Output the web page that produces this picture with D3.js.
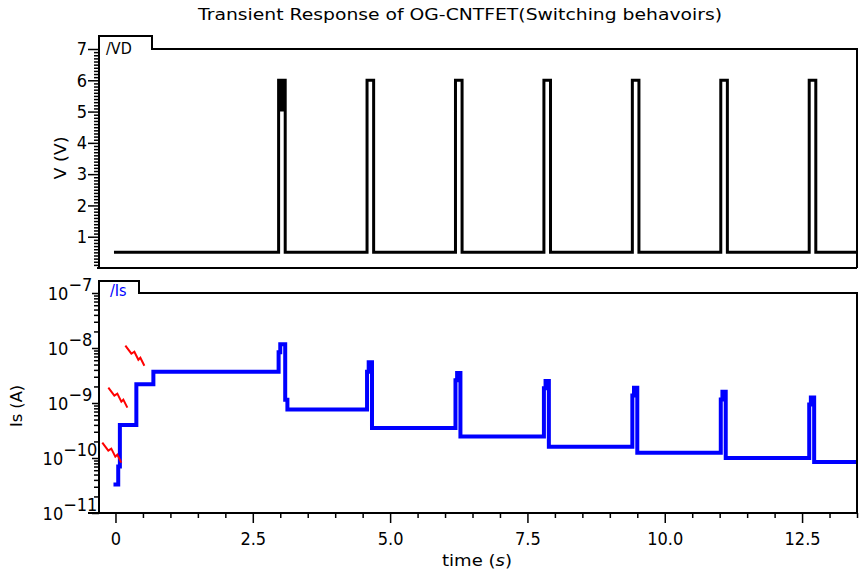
<!DOCTYPE html>
<html><head><meta charset="utf-8">
<script src="https://cdn.jsdelivr.net/npm/d3@7/dist/d3.min.js"></script>
<style>
html,body{margin:0;padding:0;background:#fff;}
svg{display:block;}
text{font-family:"DejaVu Sans Condensed","DejaVu Sans",sans-serif;fill:#000;}
</style></head><body>
<svg id="c" width="859" height="575"></svg>
<script>
// ---------------- data ----------------
const titleText = "Transient Response of OG-CNTFET(Switching behavoirs)";
const xTickValues = [0, 2.5, 5.0, 7.5, 10.0, 12.5];
const xTickLabels = ["0", "2.5", "5.0", "7.5", "10.0", "12.5"];
const vTickValues = [1, 2, 3, 4, 5, 6, 7];
const isTickExponents = [-11, -10, -9, -8, -7];

// V (top panel): step levels, each starting at time vT[i]
const vT   = [0,   2.97, 2.995, 2.995, 3.02, 3.02, 3.045, 3.045, 3.09, 4.58, 4.70, 6.19, 6.31, 7.80, 7.92, 9.41, 9.53, 11.02, 11.14, 12.63, 12.75, 13.5];
const vVal = [0.5, 6.0,  5.0,   6.0,   5.0,  6.0,  5.0,   6.0,   0.5,  6.0,  0.5,  6.0,  0.5,  6.0,  0.5,  6.0,  0.5,  6.0,   0.5,   6.0,   0.5,   0.5];

// Is (bottom panel): step levels, each starting at time isT[i]
const isT   = [0,       0.05,  0.08,  0.38,   0.69,   2.97,   3.00,    3.09,    3.13,    4.58,   4.61,   4.67,    6.19,   6.22,   6.28,     7.80,    7.83,   7.89,   9.41,    9.44,   9.50,    11.02,   11.05,  11.11,  12.63,   12.66,   12.72,   13.5];
const isVal = [3.3e-11, 7e-11, 4e-10, 2.2e-9, 3.7e-9, 8.4e-9, 1.17e-8, 1.15e-9, 7.6e-10, 3.7e-9, 5.5e-9, 3.5e-10, 2.6e-9, 3.5e-9, 2.45e-10, 1.85e-9, 2.5e-9, 1.6e-10, 1.37e-9, 1.9e-9, 1.25e-10, 1.16e-9, 1.6e-9, 1.0e-10, 9.4e-10, 1.26e-9, 8.5e-11, 8.5e-11];

// red tear-off markers (anchor in data coords)
const boltT = [0.18, -0.13, -0.24];
const boltI = [1.1e-8, 1.9e-9, 1.9e-10];

// ---------------- layout ----------------
const svg = d3.select("#c");
const L = 99, R = 857;
const top1 = 49, bot1 = 268, tab1Top = 36, tab1R = 152;
const top2 = 293, bot2 = 513, tab2Top = 281, tab2R = 139;

const x = d3.scaleLinear().domain([-0.3, 13.5]).range([L, R]);
const yV = d3.scaleLinear().domain([0, 7]).range([bot1, top1]);
const yI = d3.scaleLog().domain([1e-11, 1e-7]).range([bot2, top2]);

svg.append("rect").attr("width", 859).attr("height", 575).attr("fill", "#fff");

// title
svg.append("text").attr("x", 460).attr("y", 20).attr("text-anchor", "middle")
  .attr("font-size", 15).attr("textLength", 524).attr("lengthAdjust", "spacingAndGlyphs")
  .style("font-family", "'DejaVu Sans',sans-serif").text(titleText);

// clip paths
const defs = svg.append("defs");
defs.append("clipPath").attr("id", "clip1").append("rect")
  .attr("x", L).attr("y", top1 - 4).attr("width", R - L).attr("height", bot1 - top1 + 4);
defs.append("clipPath").attr("id", "clip2").append("rect")
  .attr("x", L + 1).attr("y", top2).attr("width", R - L - 1).attr("height", bot2 - top2);

// ---------- top panel axis ----------
const gV = svg.append("g").attr("transform", `translate(${L},0)`);
gV.call(d3.axisLeft(yV).tickValues(d3.range(0.1, 7, 0.1).filter(v => Math.abs(v - Math.round(v)) > 1e-6))
  .tickSize(5).tickFormat(""));
gV.call(g => g.select(".domain").remove());
const gV2 = svg.append("g").attr("transform", `translate(${L},0)`);
gV2.call(d3.axisLeft(yV).tickValues(vTickValues).tickSize(11).tickPadding(1).tickFormat(d3.format("d")));
gV2.select(".domain").remove();
gV2.selectAll(".tick text").attr("font-size", 18).style("font-family", "'DejaVu Sans Condensed','DejaVu Sans',sans-serif");
svg.selectAll(".tick line").attr("stroke", "#000").attr("stroke-width", 1.5);

svg.append("text").attr("transform", "translate(66,158) rotate(-90)").attr("text-anchor", "middle")
  .attr("font-size", 16).attr("textLength", 43).attr("lengthAdjust", "spacingAndGlyphs").text("V (V)");

// ---------- bottom panel axis ----------
const gI = svg.append("g").attr("transform", `translate(${L},0)`);
const minorI = [];
[-11, -10, -9, -8].forEach(e => { for (let k = 2; k <= 9; k++) minorI.push(k * Math.pow(10, e)); });
gI.call(d3.axisLeft(yI).tickValues(minorI).tickSize(5).tickFormat(""));
gI.select(".domain").remove();
const gI2 = svg.append("g").attr("transform", `translate(${L},0)`);
gI2.call(d3.axisLeft(yI).tickValues(isTickExponents.map(e => Math.pow(10, e))).tickSize(7).tickFormat(""));
gI2.select(".domain").remove();
gI2.selectAll(".tick").each(function (d, i) {
  const t = d3.select(this).append("text").attr("x", 70 - L).attr("dy", "0.35em")
    .attr("text-anchor", "middle").attr("font-size", 18).attr("fill", "#000");
  t.append("tspan").text("10");
  t.append("tspan").attr("dy", -9).text("\u2212" + Math.abs(isTickExponents[i]));
});
svg.selectAll(".tick line").attr("stroke", "#000").attr("stroke-width", 1.5);

svg.append("text").attr("transform", "translate(22,406) rotate(-90)").attr("text-anchor", "middle")
  .attr("font-size", 16).attr("textLength", 42).attr("lengthAdjust", "spacingAndGlyphs").text("Is (A)");

// ---------- x axis ----------
const gX = svg.append("g").attr("transform", `translate(0,${bot2})`);
gX.call(d3.axisBottom(x).tickValues(d3.range(0.5, 13.51, 0.5).filter(v => Math.abs(v / 2.5 - Math.round(v / 2.5)) > 1e-6))
  .tickSize(5).tickFormat(""));
gX.select(".domain").remove();
const gX2 = svg.append("g").attr("transform", `translate(0,${bot2})`);
gX2.call(d3.axisBottom(x).tickValues(xTickValues).tickSize(10).tickPadding(9)
  .tickFormat((d, i) => xTickLabels[i]));
gX2.select(".domain").remove();
gX2.selectAll(".tick text").attr("font-size", 18);
svg.selectAll(".tick line").attr("stroke", "#000").attr("stroke-width", 1.5);

const xl = svg.append("text").attr("x", 477).attr("y", 566).attr("text-anchor", "middle")
  .attr("font-size", 16).attr("textLength", 70).attr("lengthAdjust", "spacingAndGlyphs");
xl.append("tspan").text("time (");
xl.append("tspan").attr("font-style", "italic").text("s");
xl.append("tspan").text(")");

// ---------- data lines ----------
const vLine = d3.line().x((d, i) => x(vT[i])).y((d, i) => yV(vVal[i])).curve(d3.curveStepAfter);
svg.append("path").attr("clip-path", "url(#clip1)").attr("d", vLine(vT))
  .attr("fill", "none").attr("stroke", "#000").attr("stroke-width", 3).attr("stroke-linecap", "square");

const iLine = d3.line().x((d, i) => x(isT[i])).y((d, i) => yI(isVal[i])).curve(d3.curveStepAfter);
svg.append("path").attr("clip-path", "url(#clip2)").attr("d", iLine(isT))
  .attr("fill", "none").attr("stroke", "#0000ff").attr("stroke-width", 4).attr("stroke-linecap", "square");

// red tear-off markers
const boltShape = [[0, 0], [6, 8], [9, 6], [13, 14], [15, 12], [19, 20]];
boltT.forEach((t, i) => {
  const bx = x(t), by = yI(boltI[i]);
  svg.append("path").attr("d", d3.line()(boltShape.map(p => [bx + p[0], by + p[1]])))
    .attr("fill", "none").attr("stroke", "#ff0000").attr("stroke-width", 2);
});

// ---------- frames ----------
const frame = svg.append("g").attr("fill", "none").attr("stroke", "#000").attr("stroke-width", 2);
frame.append("path").attr("d",
  `M${L},${bot1} V${tab1Top} H${tab1R} V${top1} H${R} V${bot1} M${L - 2},${bot1} H${R}`);
frame.append("path").attr("d",
  `M${L},${bot2} V${tab2Top} H${tab2R} V${top2} H${R} V${bot2} M${L - 11},${bot2} H${R}`);

svg.append("text").attr("x", 106).attr("y", 54).attr("font-size", 16).attr("fill", "#000").text("/VD");
svg.append("text").attr("x", 110).attr("y", 296).attr("font-size", 16).attr("fill", "#0000ff")
  .style("fill", "#0000ff").text("/Is");
</script>
</body></html>
